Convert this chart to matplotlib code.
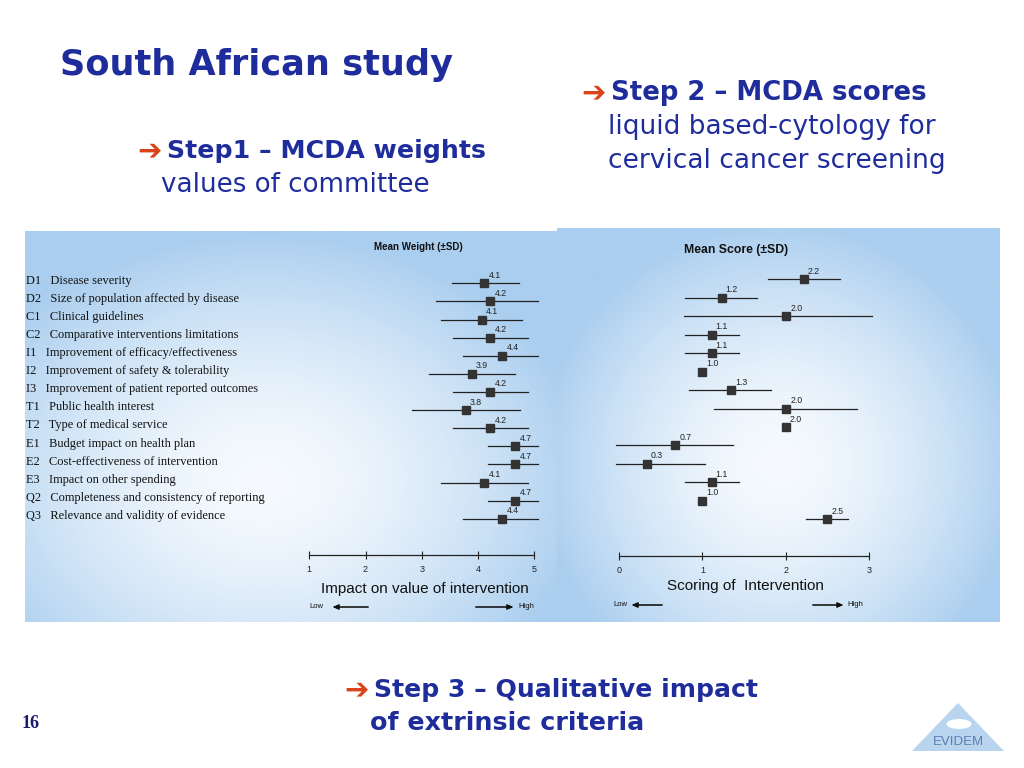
import numpy as np
import matplotlib.pyplot as plt
from matplotlib.patches import Polygon, Ellipse

# criteria of the MCDA matrix
codes = ["D1", "D2", "C1", "C2", "I1", "I2", "I3", "T1", "T2", "E1", "E2", "E3", "Q2", "Q3"]
names = ["Disease severity", "Size of population affected by disease", "Clinical guidelines",
         "Comparative interventions limitations", "Improvement of efficacy/effectiveness",
         "Improvement of safety & tolerability", "Improvement of patient reported outcomes",
         "Public health interest", "Type of medical service", "Budget impact on health plan",
         "Cost-effectiveness of intervention", "Impact on other spending",
         "Completeness and consistency of reporting", "Relevance and validity of evidence"]

# step 1 - weights (mean, -SD, +SD)
weight_mean = [4.11, 4.22, 4.07, 4.22, 4.43, 3.89, 4.22, 3.78, 4.22, 4.66, 4.66, 4.11, 4.66, 4.43]
weight_lo = [3.54, 3.26, 3.34, 3.56, 3.74, 3.13, 3.56, 2.83, 3.56, 4.18, 4.18, 3.34, 4.18, 3.74]
weight_hi = [4.72, 5.06, 4.78, 4.88, 5.06, 4.66, 4.88, 4.75, 4.88, 5.06, 5.06, 4.88, 5.06, 5.06]

# step 2 - scores (mean, -SD, +SD), nan = no SD bar
nan = np.nan
score_mean = [2.22, 1.23, 2.01, 1.11, 1.11, 1.0, 1.34, 2.01, 2.0, 0.67, 0.33, 1.11, 1.0, 2.5]
score_lo = [1.79, 0.79, 0.78, 0.79, 0.79, nan, 0.84, 1.14, nan, -0.04, -0.04, 0.79, nan, 2.25]
score_hi = [2.65, 1.66, 3.04, 1.44, 1.44, nan, 1.82, 2.86, nan, 1.37, 1.03, 1.44, nan, 2.75]

weight_ticks = [1, 2, 3, 4, 5]
score_ticks = [0, 1, 2, 3]

W, H = 1024, 768
BLUE = "#1f2d9c"
ARROW = "#d9441a"
MARK = "#333333"


def fx(x):
    return x / W


def fy(y):
    return 1 - y / H


def box(x0, y0, x1, y1):
    # pixel box (top-left, bottom-right) -> figure rect
    return [fx(x0), fy(y1), (x1 - x0) / W, (y1 - y0) / H]


def gradient(ax, cx, cy, rx, ry):
    h, w = 200, 260
    v, u = np.mgrid[0:1:h * 1j, 0:1:w * 1j]
    d = np.sqrt(((u - cx) / rx) ** 2 + ((v - cy) / ry) ** 2)
    t = np.clip(d, 0, 1) ** 1.6
    inner = np.array([246, 250, 254]) / 255
    outer = np.array([170, 206, 239]) / 255
    img = inner * (1 - t[..., None]) + outer * t[..., None]
    ax.imshow(img, aspect="auto", extent=(0, 1, 1, 0), interpolation="bilinear")
    ax.set_xlim(0, 1)
    ax.set_ylim(1, 0)
    ax.axis("off")


fig = plt.figure(figsize=(10.24, 7.68), dpi=100)

# panel backgrounds
gradient(fig.add_axes(box(25, 231, 557, 622)), 0.45, 0.64, 0.62, 0.64)
gradient(fig.add_axes(box(557, 228, 1000, 622)), 0.5, 0.6, 0.55, 0.62)


def forest(ax, mean, lo, hi, ticks, xlim, rows):
    n = len(mean)
    y = np.arange(n)
    for i in range(n):
        if not np.isnan(lo[i]):
            ax.plot([lo[i], hi[i]], [y[i], y[i]], color="#222222", lw=0.9, clip_on=False)
    ax.plot(mean, y, ls="none", marker="s", ms=5.6, color=MARK, clip_on=False, zorder=3)
    for i in range(n):
        ax.annotate(f"{mean[i]:.1f}", xy=(mean[i], y[i]), xytext=(3, 2.5), textcoords="offset points",
                    ha="left", va="bottom", fontsize=6.3, color="#222222", family="Liberation Sans")
    ax.set_xlim(*xlim)
    ax.set_ylim(*rows)
    ax.set_facecolor("none")
    for s in ["top", "left", "right"]:
        ax.spines[s].set_visible(False)
    ax.spines["bottom"].set_linewidth(0.9)
    ax.spines["bottom"].set_color("#222222")
    ax.set_yticks([])
    ax.set_xticks(ticks)
    ax.tick_params(axis="x", direction="inout", length=6, width=0.8, pad=4,
                   labelsize=6.5, colors="#222222")
    for lab in ax.get_xticklabels():
        lab.set_family("Liberation Sans")


# left: weights, x 1->309px, 5->534px, row0 at 283px, bottom line at 555px
axw = fig.add_axes(box(309.3, 265, 534.3, 555))
forest(axw, weight_mean, weight_lo, weight_hi, weight_ticks, (1, 5),
       ((555 - 283.3) / 18.11, (265 - 283.3) / 18.11))

# right: scores, x 0->619px, 3->869px, row0 at 279px, bottom line at 556px
axs = fig.add_axes(box(619.3, 262, 868.7, 556))
forest(axs, score_mean, score_lo, score_hi, score_ticks, (0, 3),
       ((556 - 279.3) / 18.46, (262 - 279.3) / 18.46))

# criteria labels at the left of the weights panel
for i in range(len(codes)):
    axw.annotate(f"{codes[i]}   {names[i]}", xy=(fx(26), i), xycoords=("figure fraction", "data"),
                 xytext=(0, 2), textcoords="offset points", ha="left", va="center",
                 fontsize=8.9, family="Liberation Serif", color="#111111")

fig.text(fx(418), fy(247), "Mean Weight (\u00b1SD)", ha="center", va="center", fontsize=7,
         weight="bold", family="Liberation Sans", color="#111111")
fig.text(fx(736), fy(250), "Mean Score (\u00b1SD)", ha="center", va="center", fontsize=8.8,
         weight="bold", family="Liberation Sans", color="#111111")

fig.text(fx(425), fy(589), "Impact on value of intervention", ha="center", va="center",
         fontsize=11, family="Liberation Sans", color="#111111")
fig.text(fx(745), fy(586), "Scoring of  Intervention", ha="center", va="center",
         fontsize=11, family="Liberation Sans", color="#111111")


def low_high(xlow, xa0, xa1, xb0, xb1, xhigh, y):
    fig.text(fx(xlow), fy(y), "Low", ha="left", va="center", fontsize=5.5,
             family="Liberation Sans", color="#111111")
    fig.text(fx(xhigh), fy(y), "High", ha="left", va="center", fontsize=5.5,
             family="Liberation Sans", color="#111111")
    ap = dict(arrowstyle="-|>,head_length=0.35,head_width=0.15", color="#111111", lw=0.8)
    fig.add_artist(plt.annotate("", xy=(fx(xa0), fy(y)), xytext=(fx(xa1), fy(y)),
                                xycoords="figure fraction", arrowprops=ap))
    fig.add_artist(plt.annotate("", xy=(fx(xb1), fy(y)), xytext=(fx(xb0), fy(y)),
                                xycoords="figure fraction", arrowprops=ap))


low_high(309, 330, 371, 473, 516, 518, 607)
low_high(613, 629, 665, 810, 846, 847, 605)

# slide texts
fig.text(fx(60), fy(65), "South African study", ha="left", va="center", fontsize=25.3,
         weight="bold", color=BLUE)


def step(x, y, txt, size):
    fig.text(fx(x - 2), fy(y), "\u2794", ha="left", va="center", fontsize=21, color=ARROW,
             weight="bold", family="DejaVu Sans")
    fig.text(fx(x + 28), fy(y), txt, ha="left", va="center", fontsize=size, weight="bold",
             color=BLUE)


step(583, 93, "Step 2 \u2013 MCDA scores", 18.7)
fig.text(fx(608), fy(127), "liquid based-cytology for", ha="left", va="center", fontsize=19,
         color=BLUE)
fig.text(fx(608), fy(161), "cervical cancer screening", ha="left", va="center", fontsize=19,
         color=BLUE)

step(139, 151, "Step1 \u2013 MCDA weights", 18.2)
fig.text(fx(161), fy(185), "values of committee", ha="left", va="center", fontsize=18.8,
         color=BLUE)

step(346, 690, "Step 3 \u2013 Qualitative impact", 18.1)
fig.text(fx(370), fy(723), "of extrinsic criteria", ha="left", va="center", fontsize=18.3,
         weight="bold", color=BLUE)

fig.text(fx(22), fy(723), "16", ha="left", va="center", fontsize=13, weight="bold",
         family="Liberation Serif", color="#1a1a6e")

# EVIDEM logo
fig.add_artist(Polygon([(fx(958), fy(703)), (fx(912), fy(751)), (fx(1004), fy(751))],
                       closed=True, transform=fig.transFigure, color="#b9d4ef", lw=0))
fig.add_artist(Ellipse((fx(959), fy(724)), 25 / W, 10 / H, transform=fig.transFigure,
                       color="white", lw=0))
fig.text(fx(958), fy(742), "EVIDEM", ha="center", va="center", fontsize=9.5,
         family="Liberation Sans", color="#5a7fb2")

fig.savefig("out.png", dpi=100)
